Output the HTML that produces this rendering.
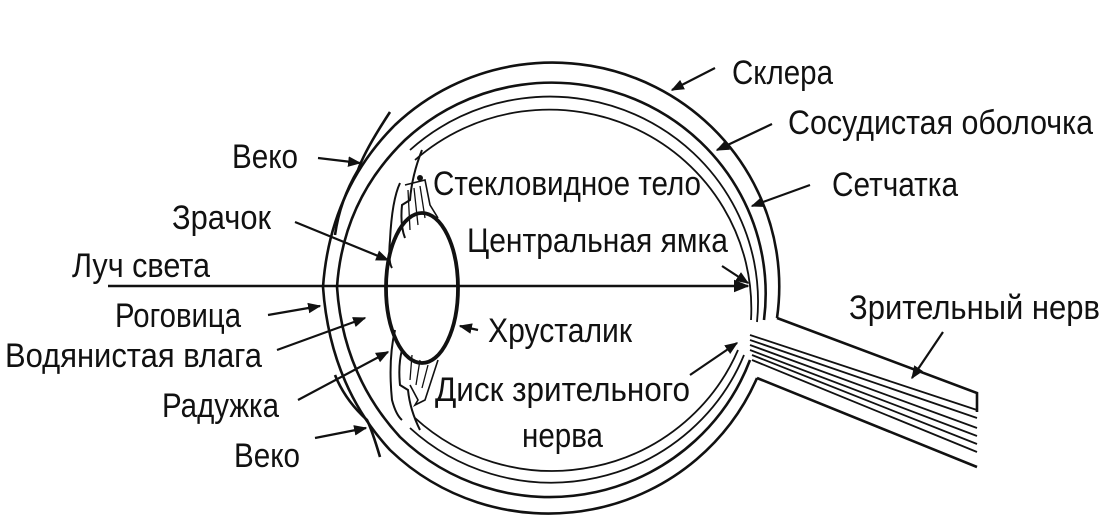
<!DOCTYPE html>
<html><head><meta charset="utf-8"><style>
html,body{margin:0;padding:0;background:#fff;}
svg{display:block;}
text{font-family:"Liberation Sans",sans-serif;font-size:34px;fill:#111;}
</style></head><body>
<svg width="1115" height="527" viewBox="0 0 1115 527" xmlns="http://www.w3.org/2000/svg">
<defs>
<marker id="a" viewBox="0 0 10 10" refX="9" refY="5" markerWidth="6" markerHeight="6" orient="auto"><path d="M0,1 L10,5 L0,9 z" fill="#111"/></marker>
</defs>
<g fill="none" stroke="#111" stroke-width="2.6">
<path d="M 777 318 A 227 224 0 0 0 395 125 Q 330 190 323 287 Q 330 385 390 450 A 227 224 0 0 0 757 378"/>
<path d="M 764 320 A 214 211 0 0 0 405 140 Q 343 200 337 287 Q 343 375 400 437 A 214 211 0 0 0 750 360"/>
<path d="M 757 322 A 208 205 0 0 0 410 150 M 410 428 A 208 205 0 0 0 744 355" stroke-width="1.8"/>
<path d="M 751 320 A 202 199 0 0 0 415 160 M 415 418 A 202 199 0 0 0 738 350" stroke-width="1.8"/>
<path d="M 422 150 Q 412 175 410 200 L 402 205 Q 400 225 405 238 M 420 430 Q 410 410 408 390 L 400 385 Q 398 365 402 350" stroke-width="2"/>
<path d="M 400 183 Q 392 200 390 240 Q 388 262 392 268 M 395 330 Q 388 360 392 400 Q 396 415 402 420" stroke-width="2"/>
<path d="M 405 185 L 425 180 L 430 205 L 438 218 M 410 385 L 418 400 L 415 405 L 425 400 L 438 360" stroke-width="1.6"/>
<path d="M 408 190 L 410 230 M 414 188 L 418 225 M 420 186 L 425 218 M 410 380 L 412 355 M 416 385 L 420 360 M 422 388 L 428 365" stroke-width="1.3"/>
<path d="M 390 112 Q 365 150 358 170 Q 340 200 335 235"/>
<path d="M 380 457 Q 372 430 367 420 Q 345 400 335 375"/>
<ellipse cx="422" cy="288" rx="36" ry="75" stroke-width="3.8"/>
<path d="M 777 318 L 977 393 L 977 412"/>
<path d="M 757 378 L 977 467"/>
<path d="M 750 335 L 977 410 M 750 340 L 977 418 M 750 345 L 977 428 M 750 350 L 977 436 M 752 355 L 977 444 M 752 360 L 977 452" stroke-width="1.8"/>
<line x1="108" y1="286" x2="748" y2="286" marker-end="url(#a)"/>
<g stroke-width="2.2" marker-end="url(#a)">
<line x1="715" y1="68" x2="672" y2="90"/>
<line x1="772" y1="124" x2="717" y2="150"/>
<line x1="810" y1="185" x2="752" y2="206"/>
<line x1="318" y1="158" x2="360" y2="163"/>
<line x1="295" y1="222" x2="388" y2="260"/>
<line x1="722" y1="266" x2="748" y2="283"/>
<line x1="268" y1="315" x2="320" y2="306"/>
<line x1="478" y1="330" x2="460" y2="326"/>
<line x1="277" y1="350" x2="365" y2="318"/>
<line x1="298" y1="400" x2="388" y2="352"/>
<line x1="690" y1="375" x2="737" y2="343"/>
<line x1="315" y1="438" x2="366" y2="428"/>
<line x1="943" y1="332" x2="912" y2="378"/>
</g>
</g>
<circle cx="420" cy="178" r="3" fill="#111"/>
<text x="732" y="84" textLength="101" lengthAdjust="spacingAndGlyphs">Склера</text>
<text x="788" y="134" textLength="305" lengthAdjust="spacingAndGlyphs">Сосудистая оболочка</text>
<text x="832" y="196" textLength="126" lengthAdjust="spacingAndGlyphs">Сетчатка</text>
<text x="232" y="168" textLength="66" lengthAdjust="spacingAndGlyphs">Веко</text>
<text x="433" y="195" textLength="268" lengthAdjust="spacingAndGlyphs">Стекловидное тело</text>
<text x="172" y="229" textLength="99" lengthAdjust="spacingAndGlyphs">Зрачок</text>
<text x="467" y="252" textLength="261" lengthAdjust="spacingAndGlyphs">Центральная ямка</text>
<text x="72" y="277" textLength="138" lengthAdjust="spacingAndGlyphs">Луч света</text>
<text x="115" y="327" textLength="126" lengthAdjust="spacingAndGlyphs">Роговица</text>
<text x="488" y="342" textLength="144" lengthAdjust="spacingAndGlyphs">Хрусталик</text>
<text x="5" y="367" textLength="257" lengthAdjust="spacingAndGlyphs">Водянистая влага</text>
<text x="162" y="417" textLength="117" lengthAdjust="spacingAndGlyphs">Радужка</text>
<text x="435" y="401" textLength="255" lengthAdjust="spacingAndGlyphs">Диск зрительного</text>
<text x="522" y="447" textLength="81" lengthAdjust="spacingAndGlyphs">нерва</text>
<text x="234" y="467" textLength="66" lengthAdjust="spacingAndGlyphs">Веко</text>
<text x="849" y="319" textLength="251" lengthAdjust="spacingAndGlyphs">Зрительный нерв</text>
</svg>
</body></html>
